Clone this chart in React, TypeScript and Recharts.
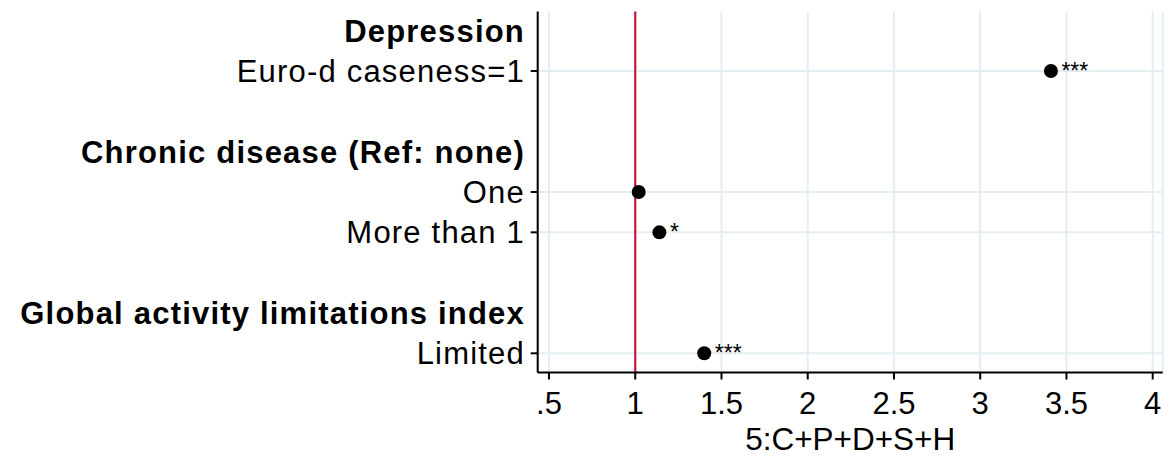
import { ScatterChart, Scatter, XAxis, YAxis, CartesianGrid, ReferenceLine } from 'recharts';

// rows of the coefficient plot, top to bottom (blank rows are gaps between groups)
const rowLabels = [
  'Depression',
  'Euro-d caseness=1',
  '',
  'Chronic disease (Ref: none)',
  'One',
  'More than 1',
  '',
  'Global activity limitations index',
  'Limited'
];
const headerRows = [0, 3, 7];
const itemRows = [1, 4, 5, 8];
const estimates = [3.41, 1.02, 1.14, 1.4];
const stars = ['***', '', '*', '***'];
const xTicks = [0.5, 1, 1.5, 2, 2.5, 3, 3.5, 4];
const xTitle = '5:C+P+D+S+H';

const points = itemRows.map((row, i) => ({ x: estimates[i], row, sig: stars[i] }));

const gridColor = '#e4edf1';

function RowTick(props: any) {
  const { x, y, payload } = props;
  const v = payload.value;
  const isHeader = headerRows.includes(v);
  return (
    <g>
      {!isHeader && <line x1={x + 5.7} x2={x + 12.7} y1={y} y2={y} stroke="#000" strokeWidth={2} />}
      <text
        x={x}
        y={y}
        dy="0.35em"
        textAnchor="end"
        fontSize={31}
        letterSpacing={1.2}
        fontWeight={isHeader ? 'bold' : 'normal'}
        fill="#000"
      >
        {rowLabels[v]}
      </text>
    </g>
  );
}

function Dot(props: any) {
  const { cx, cy, payload } = props;
  return (
    <g>
      <circle cx={cx} cy={cy} r={7} fill="#000" />
      {payload.sig && (
        <text x={cx + 10.5} y={cy + 8} fontSize={23} fill="#000">
          {payload.sig}
        </text>
      )}
    </g>
  );
}

function AxisTitle(props: any) {
  const vb = props.viewBox;
  return (
    <text x={vb.x + vb.width / 2} y={vb.y + 77.5} textAnchor="middle" fontSize={31.5} fill="#000">
      {xTitle}
    </text>
  );
}

export default function App() {
  return (
    <div
      style={{
        position: 'absolute',
        left: 0,
        top: 0,
        width: 1175,
        height: 457,
        overflow: 'hidden',
        background: '#fff',
        fontFamily: '"Liberation Sans", Arial, sans-serif'
      }}
    >
      <ScatterChart width={1175} height={457} margin={{ top: 11.5, right: 12.3, bottom: 0, left: 0 }}>
        <CartesianGrid horizontal={false} stroke={gridColor} strokeWidth={2} />
        {itemRows.map((r) => (
          <ReferenceLine key={r} y={r} stroke={gridColor} strokeWidth={2} />
        ))}
        <ReferenceLine x={1} stroke="#c9173d" strokeWidth={2.2} />
        <XAxis
          type="number"
          dataKey="x"
          domain={[0.4345, 4.058]}
          ticks={xTicks}
          interval={0}
          allowDataOverflow
          tickFormatter={(v: number) => (v === 0.5 ? '.5' : String(v))}
          tickSize={7}
          tickMargin={12}
          tick={{ fontSize: 31, fill: '#000' }}
          axisLine={{ stroke: '#000', strokeWidth: 2 }}
          tickLine={{ stroke: '#000', strokeWidth: 2 }}
          height={84.5}
          label={(p: any) => <AxisTitle {...p} />}
        />
        <YAxis
          type="number"
          dataKey="row"
          reversed
          domain={[-0.476, 8.476]}
          ticks={[0, 1, 3, 4, 5, 7, 8]}
          interval={0}
          allowDataOverflow
          width={537.7}
          tick={(p: any) => <RowTick {...p} />}
          tickLine={false}
          tickSize={7}
          tickMargin={5.7}
          axisLine={{ stroke: '#000', strokeWidth: 2 }}
        />
        <Scatter data={points} shape={(p: any) => <Dot {...p} />} isAnimationActive={false} />
      </ScatterChart>
    </div>
  );
}
